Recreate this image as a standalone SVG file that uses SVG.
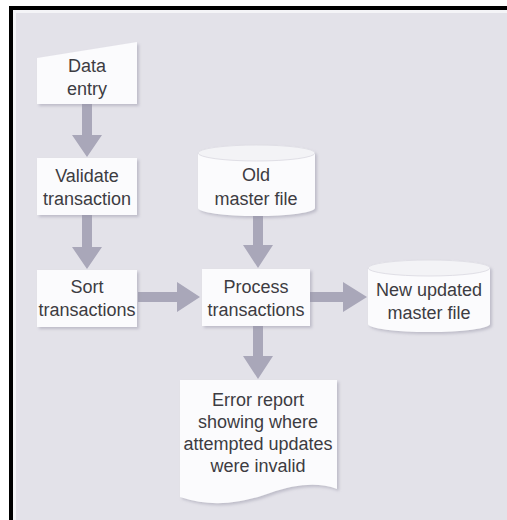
<svg xmlns="http://www.w3.org/2000/svg" width="507" height="520" viewBox="0 0 507 520">
<defs>
<style>
.node{fill:#fbfbfd;filter:url(#sh)}
.lbl{font-family:"Liberation Sans","DejaVu Sans",sans-serif;font-size:18px;fill:#3d3c42;text-anchor:middle}
.arr{fill:#a9a7b9}
</style>
<filter id="sh" x="-10%" y="-10%" width="130%" height="130%">
<feDropShadow dx="2" dy="2" stdDeviation="1.5" flood-color="#8f8ea0" flood-opacity="0.45"/>
</filter>
</defs>
<rect x="0" y="0" width="507" height="520" fill="#ffffff"/>
<rect x="13" y="10" width="494" height="510" fill="#e3e2e9"/>
<rect x="13" y="10" width="494" height="3" fill="#f4f4f7"/>
<rect x="13" y="10" width="3" height="510" fill="#f4f4f7"/>
<rect x="9" y="6" width="498" height="4" fill="#000"/>
<rect x="9" y="6" width="4" height="514" fill="#000"/>

<g id="connectors">
<path class="arr" d="M82,104 H92 V135 H102 L87,157 L72,135 H82 Z"/>
<path class="arr" d="M82,215 H92 V247 H102 L87,269 L72,247 H82 Z"/>
<path class="arr" d="M253,216 H263 V245 H273 L258,268 L243,245 H253 Z"/>
<path class="arr" d="M138,292 H177 V282 L200,297 L177,312 V302 H138 Z"/>
<path class="arr" d="M310,292 H343 V282 L367,297 L343,312 V302 H310 Z"/>
<path class="arr" d="M253,325 H263 V356 H273 L258,379 L243,356 H253 Z"/>
</g>

<g id="data-entry">
<path class="node" d="M37,58 L137,42 V104 H37 Z"/>
<text class="lbl" x="87" y="72">Data</text>
<text class="lbl" x="87" y="95">entry</text>
</g>

<g id="validate">
<rect class="node" x="37" y="158" width="100" height="57"/>
<text class="lbl" x="87" y="182">Validate</text>
<text class="lbl" x="87" y="205">transaction</text>
</g>

<g id="sort">
<rect class="node" x="37" y="270" width="100" height="57"/>
<text class="lbl" x="87" y="293">Sort</text>
<text class="lbl" x="87" y="316">transactions</text>
</g>

<g id="old-master">
<path class="node" d="M198,153 A58.5,8 0 0 1 315,153 V208 A58.5,8 0 0 1 198,208 Z"/>
<ellipse cx="256.5" cy="153" rx="58.5" ry="8" fill="#f3f3f6" stroke="#e0dfe6" stroke-width="1"/>
<text class="lbl" x="256" y="181">Old</text>
<text class="lbl" x="256" y="205">master file</text>
</g>

<g id="process">
<rect class="node" x="202" y="269" width="108" height="57"/>
<text class="lbl" x="256" y="293">Process</text>
<text class="lbl" x="256" y="316">transactions</text>
</g>

<g id="new-master">
<path class="node" d="M368,268 A61,8 0 0 1 490,268 V324 A61,8 0 0 1 368,324 Z"/>
<ellipse cx="429" cy="268" rx="61" ry="8" fill="#f3f3f6" stroke="#e0dfe6" stroke-width="1"/>
<text class="lbl" x="429" y="296">New updated</text>
<text class="lbl" x="429" y="319">master file</text>
</g>

<g id="error-report">
<path class="node" d="M180,380 H337 V489 C318,482 296,484 270,493 C242,503 212,508 180,497 Z"/>
<text class="lbl" x="258" y="406">Error report</text>
<text class="lbl" x="258" y="428">showing where</text>
<text class="lbl" x="258" y="450">attempted updates</text>
<text class="lbl" x="258" y="472">were invalid</text>
</g>
</svg>
